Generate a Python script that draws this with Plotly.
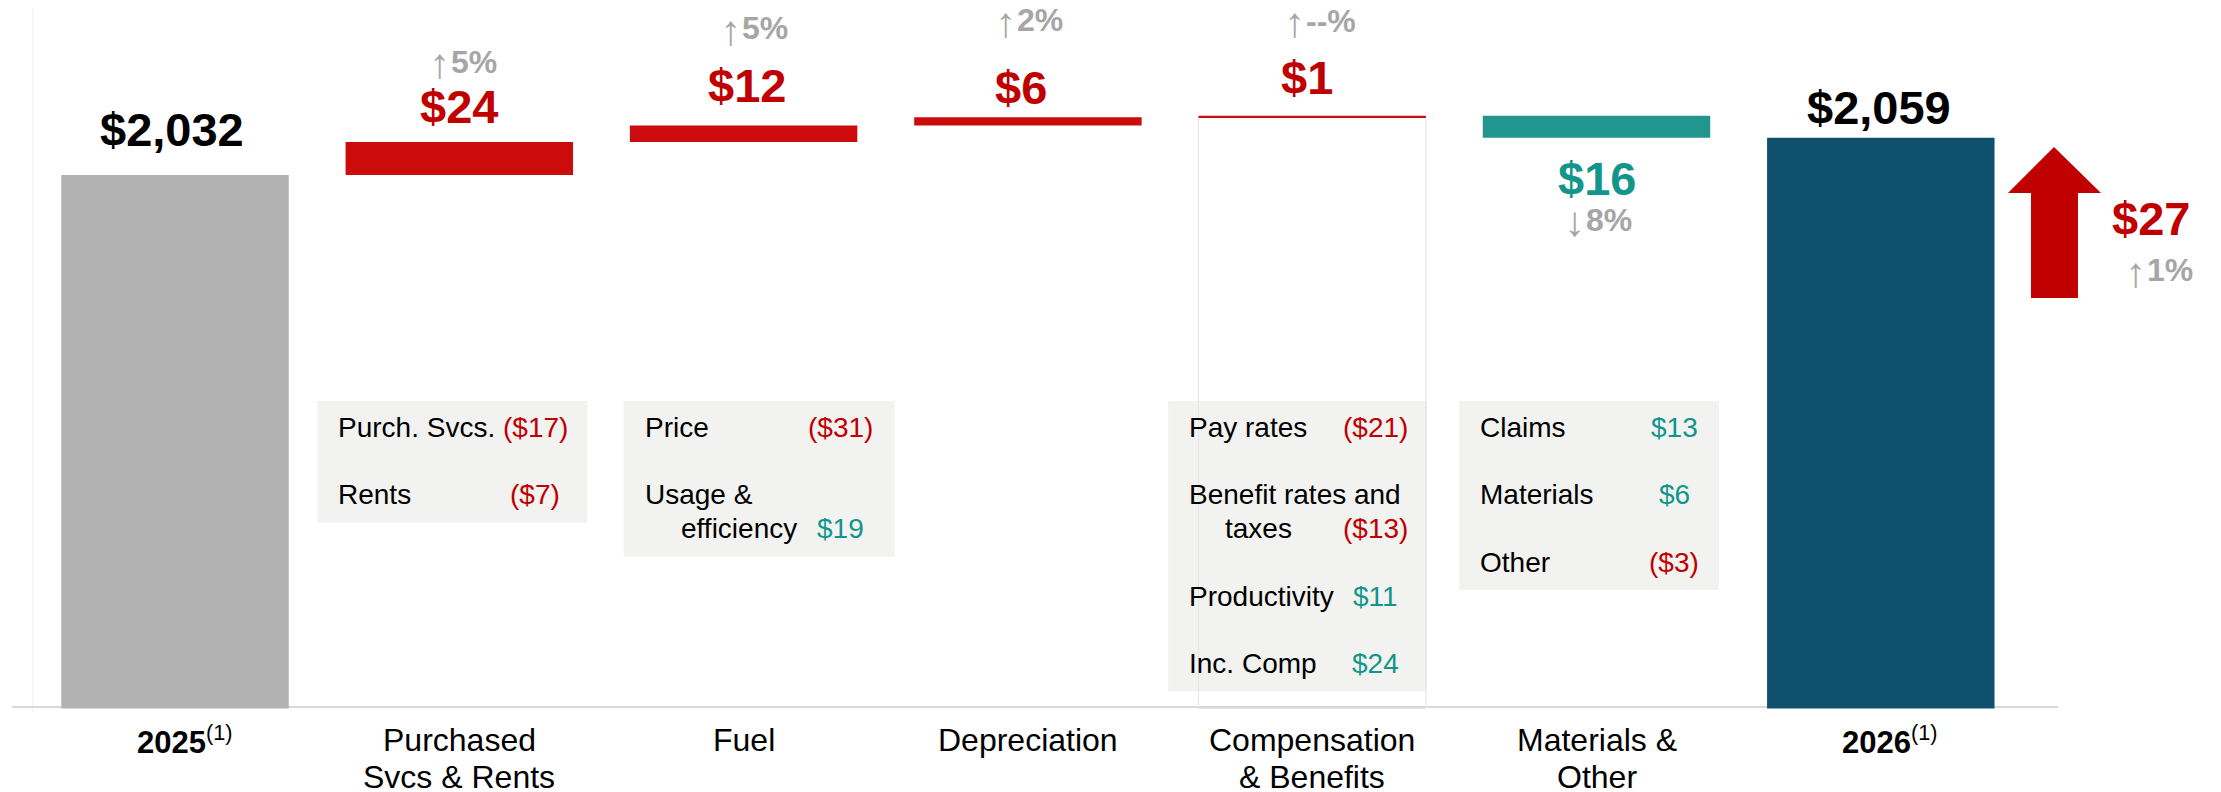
import plotly.graph_objects as go

# ---------------- data ----------------
CATEGORIES = ["2025", "Purchased\nSvcs & Rents", "Fuel", "Depreciation",
              "Compensation\n& Benefits", "Materials &\nOther", "2026"]
FOOTNOTE = "(1)"
START_VALUE = 2032
END_VALUE = 2059
DELTAS = [24, 12, 6, 1, -16]
DELTA_ARROWS = ["↑", "↑", "↑", "↑", "↓"]
DELTA_PCTS = ["5%", "5%", "2%", "--%", "8%"]
TOTAL_CHANGE = 27
TOTAL_ARROW = "↑"
TOTAL_PCT = "1%"

PURCH_LABELS = ["Purch. Svcs.", "Rents"]
PURCH_VALUES = [-17, -7]
FUEL_LABELS = ["Price", "Usage &\nefficiency"]
FUEL_VALUES = [-31, 19]
COMP_LABELS = ["Pay rates", "Benefit rates and\ntaxes", "Productivity", "Inc. Comp"]
COMP_VALUES = [-21, -13, 11, 24]
MAT_LABELS = ["Claims", "Materials", "Other"]
MAT_VALUES = [13, 6, -3]

# ---------------- layout / style ----------------
OFF = 8                       # page body margin
W, H = 2221 - OFF, 792 - OFF
X_RANGE = [-0.5874, 7.1966]
Y_RANGE = [1583.27, 2153.45]
FLOOR = 1644
PX_PER_CAT = W / (X_RANGE[1] - X_RANGE[0])
FONT = "Liberation Sans, Arial, sans-serif"

GRAY_BAR = "#B2B2B2"
RED_BAR = "#CC0C0C"
RED_TXT = "#C00000"
TEAL_BAR = "#22968E"
TEAL_TXT = "#12968C"
BLUE_BAR = "#0E506D"
PCT_GRAY = "#A6A6A6"
BOX_FILL = "#F2F2F0"


def py(p):
    return 1 - (p - OFF) / H


def px(p):
    return (p - OFF) / W


fig = go.Figure()

levels = [START_VALUE]
for d in DELTAS:
    levels.append(levels[-1] + d)

# ghost outline for compensation column (as in the source)
comp_idx = 4
fig.add_trace(go.Bar(x=[comp_idx], y=[levels[comp_idx - 1] - FLOOR], base=[FLOOR], width=0.8,
                     marker=dict(color="rgba(255,255,255,0)", line=dict(color="#E4E4E4", width=1)),
                     hoverinfo="skip"))

xs, ys, bases, colors = [], [], [], []
xs.append(0); bases.append(FLOOR); ys.append(START_VALUE - FLOOR); colors.append(GRAY_BAR)
for k, d in enumerate(DELTAS):
    xs.append(k + 1)
    bases.append(min(levels[k], levels[k + 1]))
    ys.append(abs(d))
    colors.append(RED_BAR if d > 0 else TEAL_BAR)
xs.append(6); bases.append(FLOOR); ys.append(END_VALUE - FLOOR); colors.append(BLUE_BAR)

fig.add_trace(go.Bar(x=xs, y=ys, base=bases, width=0.8,
                     marker=dict(color=colors, line=dict(width=0)), hoverinfo="skip"))

ann = []


def A(**kw):
    kw.setdefault("showarrow", False)
    kw.setdefault("xanchor", "center")
    kw.setdefault("yanchor", "middle")
    ann.append(kw)


PCT_FONT_ARROW = dict(family=FONT, size=42, color=PCT_GRAY, weight="normal")
PCT_FONT_NUM = dict(family=FONT, size=32, color=PCT_GRAY, weight="bold")
ARROW_DY = -2

# start / end value labels
A(x=0, y=START_VALUE, xref="x", yref="y", yshift=45, xshift=-3,
  text=f"<b>${START_VALUE:,}</b>", font=dict(family=FONT, size=47, color="black"))
A(x=6, y=END_VALUE, xref="x", yref="y", yshift=30, xshift=-2,
  text=f"<b>${END_VALUE:,}</b>", font=dict(family=FONT, size=47, color="black"))

VALUE_SHIFT = [35, 40, 30, 38, -41]
VALUE_XSHIFT = [0, 3, -7, -5, 0]
PCT_SHIFT = [80, 97, 97, 95, -82]
PCT_JUNCTION = [-9, -3, -12, -7, -11.5]
for k, d in enumerate(DELTAS):
    col = RED_TXT if d > 0 else TEAL_TXT
    yv = levels[k + 1]
    A(x=k + 1, y=yv, xref="x", yref="y", yshift=VALUE_SHIFT[k], xshift=VALUE_XSHIFT[k],
      text=f"<b>${abs(d)}</b>", font=dict(family=FONT, size=47, color=col))
    A(x=k + 1, y=yv, xref="x", yref="y", yshift=PCT_SHIFT[k] + ARROW_DY, xshift=PCT_JUNCTION[k] + 2,
      xanchor="right", text=DELTA_ARROWS[k], font=PCT_FONT_ARROW)
    A(x=k + 1, y=yv, xref="x", yref="y", yshift=PCT_SHIFT[k], xshift=PCT_JUNCTION[k] - 1,
      xanchor="left", text=DELTA_PCTS[k], font=PCT_FONT_NUM)

# total change arrow
arrow_pts = [(2054, 147), (2101, 193), (2078, 193), (2078, 298), (2031, 298), (2031, 193), (2008, 193)]
path = "M " + " L ".join(f"{px(a):.5f},{py(b):.5f}" for a, b in arrow_pts) + " Z"
shapes = [dict(type="path", path=path, xref="paper", yref="paper",
               fillcolor=RED_TXT, line=dict(width=0))]
A(x=px(2151), y=py(219), xref="paper", yref="paper",
  text=f"<b>${TOTAL_CHANGE}</b>", font=dict(family=FONT, size=47, color=RED_TXT))
A(x=px(2148), y=py(270 - ARROW_DY), xref="paper", yref="paper", xanchor="right",
  text=TOTAL_ARROW, font=PCT_FONT_ARROW)
A(x=px(2145), y=py(270), xref="paper", yref="paper", xanchor="left",
  text=TOTAL_PCT, font=PCT_FONT_NUM)

# baseline and faint left axis
shapes.append(dict(type="line", xref="x", yref="y", x0=-0.573, x1=6.623, y0=FLOOR + 1, y1=FLOOR + 1,
                   line=dict(color="#D9D9D4", width=2), layer="below"))
shapes.append(dict(type="line", xref="x", yref="paper", x0=-0.5, x1=-0.5, y0=py(712), y1=1,
                   line=dict(color="#F0F0F0", width=1), layer="below"))

# detail boxes
BOX_CATS = [1, 2, 4, 5]
BOX_LABELS = [PURCH_LABELS, FUEL_LABELS, COMP_LABELS, MAT_LABELS]
BOX_VALUES = [PURCH_VALUES, FUEL_VALUES, COMP_VALUES, MAT_VALUES]
BOX_OFFSETS = [(-142, 128), (-120, 151), (-144, 115), (-137.5, 122.5)]
VALUE_COL = [52, 54, 52, 45]
FIRST_LINE, LINE_PITCH, ROW_PITCH = 427, 34, 67.5
BOX_TOP, PAD_LEFT, INDENT = 401, 19, 36
for bi, cat in enumerate(BOX_CATS):
    left, right = BOX_OFFSETS[bi]
    y = FIRST_LINE
    last = y
    for lab, val in zip(BOX_LABELS[bi], BOX_VALUES[bi]):
        lines = lab.split("\n")
        for j, line in enumerate(lines):
            A(x=cat, y=py(y + LINE_PITCH * j), xref="x", yref="paper",
              xshift=left + PAD_LEFT + (INDENT if j else 0), xanchor="left",
              text=line, font=dict(family=FONT, size=28, color="black"))
        vy = y + LINE_PITCH * (len(lines) - 1)
        vtxt = f"(${-val})" if val < 0 else f"${val}"
        A(x=cat, y=py(vy), xref="x", yref="paper", xshift=right - VALUE_COL[bi],
          text=vtxt, font=dict(family=FONT, size=28, color=RED_TXT if val < 0 else TEAL_TXT))
        last = vy
        y = vy + ROW_PITCH
    shapes.append(dict(type="rect", xref="x", yref="paper",
                       x0=cat + left / PX_PER_CAT, x1=cat + right / PX_PER_CAT,
                       y0=py(last + 28), y1=py(BOX_TOP),
                       fillcolor=BOX_FILL, line=dict(width=0), layer="below"))

# category labels
for i, cat in enumerate(CATEGORIES):
    if i in (0, len(CATEGORIES) - 1):
        A(x=i, y=py(740), xref="x", yref="paper", xshift=9,
          text=f"<b>{cat}</b><sup>{FOOTNOTE}</sup>",
          font=dict(family=FONT, size=31, color="black"))
    else:
        for j, line in enumerate(cat.split("\n")):
            A(x=i, y=py(740 + 37 * j), xref="x", yref="paper",
              text=line, font=dict(family=FONT, size=32, color="black"))

fig.update_layout(
    width=W, height=H, margin=dict(l=0, r=0, t=0, b=0),
    plot_bgcolor="white", paper_bgcolor="white",
    barmode="overlay", showlegend=False,
    xaxis=dict(range=X_RANGE, visible=False, fixedrange=True),
    yaxis=dict(range=Y_RANGE, visible=False, fixedrange=True),
    annotations=ann, shapes=shapes,
)

fig.write_html("out.html")
